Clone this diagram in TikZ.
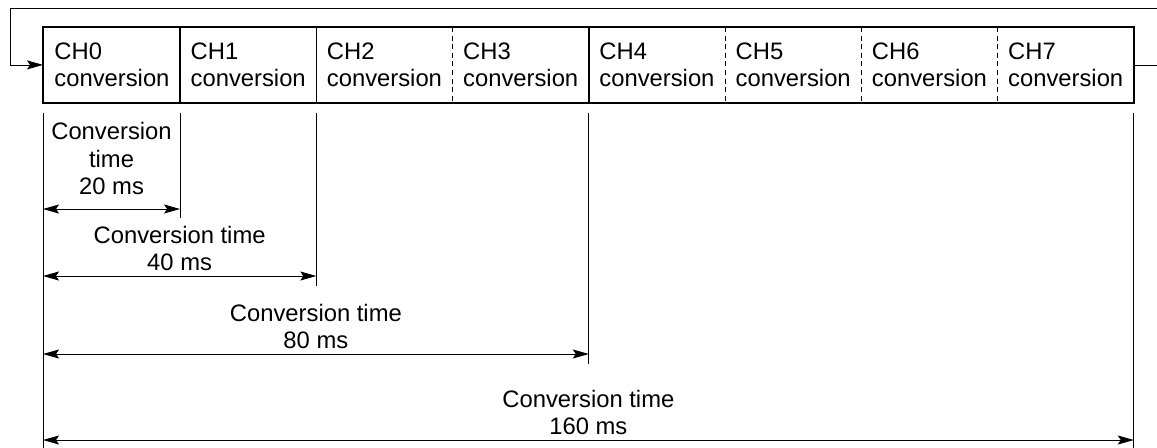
\documentclass[tikz,border=0pt]{standalone}
\usepackage{fontspec}
\setmainfont{Liberation Sans}
\usetikzlibrary{arrows.meta}
\begin{document}
\begin{tikzpicture}[x=0.5pt,y=-0.5pt,line width=0.4pt,
  font=\fontsize{11.9}{13.6}\selectfont,
  >={Stealth[length=8pt,width=4.5pt,inset=1.5pt]},
  cell/.style={anchor=north west,text width=57.125pt,inner xsep=5.5pt,inner ysep=0pt,
    minimum height=37.5pt,align=left},
  frame/.style={line width=0.8pt},
  sep/.style={dash pattern=on 2.5pt off 1.8pt},
  lbl/.style={anchor=south,align=center,inner sep=0pt,yshift=2.5pt}]
\useasboundingbox (0,0) rectangle (1157,447);
% eight channels, one after the other
\foreach \i in {0,...,7}
  \node[cell] (c\i) at ({43+136.25*\i},27) {CH\i\\conversion};
\draw[frame] (c0.north west) rectangle (c7.south east);
\foreach \i in {0,1,3}
  \draw[frame] (c\i.north east) -- (c\i.south east);
\foreach \i in {2,4,5,6}
  \draw[sep] (c\i.north east) -- (c\i.south east);
% back to CH0 after CH7
\coordinate (back) at (10,8);
\draw[->] (1157,8) -- (back) |- (c0.west);
\draw (c7.east) -- +(24,0);
% extension lines
\draw ([yshift=-5pt]c0.south west) -- +(0,335);
\draw ([yshift=-5pt]c0.south east) -- +(0,105);
\draw ([yshift=-5pt]c1.south east) -- +(0,173);
\draw ([yshift=-5pt]c3.south east) -- +(0,251);
\draw ([yshift=-5pt]c7.south east) -- +(0,335);
% conversion times
\coordinate (t20) at (0,209);
\coordinate (t40) at (0,276);
\coordinate (t80) at (0,354);
\coordinate (t160) at (0,440);
\draw[<->] (c0.south west |- t20) -- node[lbl,yshift=4.5pt] {Conversion\\time\\20 ms} (c0.south east |- t20);
\draw[<->] (c0.south west |- t40) -- node[lbl] {Conversion time\\40 ms} (c1.south east |- t40);
\draw[<->] (c0.south west |- t80) -- node[lbl] {Conversion time\\80 ms} (c3.south east |- t80);
\draw[<->] (c0.south west |- t160) -- node[lbl] {Conversion time\\160 ms} (c7.south east |- t160);
\end{tikzpicture}
\end{document}
